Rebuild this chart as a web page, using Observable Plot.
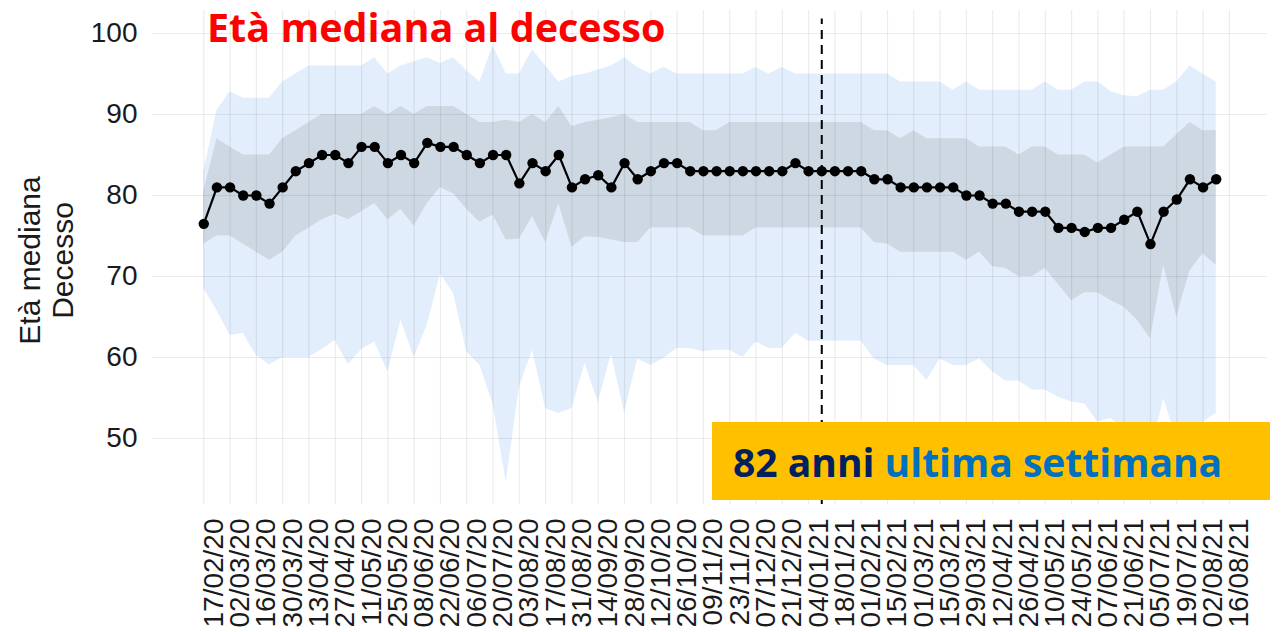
<!DOCTYPE html>
<html>
<head>
<meta charset="utf-8">
<script src="https://cdn.jsdelivr.net/npm/d3@7"></script>
<script src="https://cdn.jsdelivr.net/npm/@observablehq/plot@0.6"></script>
<style>
  html, body { margin: 0; padding: 0; background: #fff; }
  #wrap { position: relative; width: 1281px; height: 632px; overflow: hidden; }
  #title { position: absolute; left: 207px; top: 4px; font-family: "Open Sans", sans-serif; font-weight: 700; font-size: 39.5px; color: #ff0000; line-height: 1.2; white-space: nowrap; }
  #badge { position: absolute; left: 712px; top: 422px; width: 558px; height: 78px; background: #ffc000; display: flex; align-items: center; padding-left: 21px; box-sizing: border-box; font-family: "Open Sans", sans-serif; font-weight: 700; font-size: 39px; white-space: nowrap; }
  #badge .n { color: #002060; }
  #badge .t { color: #0070c0; }
</style>
</head>
<body>
<div id="wrap">
  <div id="chart"></div>
  <div id="title">Età mediana al decesso</div>
  <div id="badge"><span class="n">82 anni</span>&nbsp;<span class="t">ultima settimana</span></div>
</div>
<script>
// Weekly median age at death (17/02/20 ... 09/08/21)
const median = [76.5,81,81,80,80,79,81,83,84,85,85,84,86,86,84,85,84,86.5,86,86,85,84,85,85,81.5,84,83,85,81,82,82.5,81,84,82,83,84,84,
  83,83,83,83,83,83,83,83,84,83,83,83,83,83,82,82,81,81,81,81,81,80,80,79,79,78,78,78,76,76,75.5,76,76,77,78,74,78,79.5,82,81,82];
// Outer band (light blue)
const outerHigh = [83,90.5,92.8,92,92,92,94,95,96,96,96,96,96,97,95,96,96.5,97,96.3,97,95.4,94,98.5,95,95,98,96,94,94.7,95,95.5,96,97,95.8,95,95.8,95,
  95,95,95,95,95,95.8,95,95.8,95,95,95,95,95,95,95,95,94,94,94,94,93,94,93,93,93,93,93,94,93,93,94,94,92.8,92.3,92.2,93,93,94,96,95,94];
const outerLow = [68.5,65.8,62.7,63,60.2,59.1,60,60,60,61,62.1,59.1,61,61.9,58.2,64.6,60,64,70.3,67.9,60.7,59,54.3,44.6,56.3,60.9,53.7,53.1,53.7,59.3,54.4,60.4,53.2,59.8,59,59.9,61.1,
  61.1,60.7,60.9,60.9,60,61.9,61.1,61.1,63,62,62,62,62,62,59.8,59,59,59,57.2,59.8,59,59,59.8,58.2,57.1,57.1,56,56,55.1,54.5,54.3,52,52.5,51,50,48,54.9,50,51,52,53.1];
// Inner band (grey-blue)
const innerHigh = [80.5,87,86,85,85,85,87,88,89,90,90,90,90,91,90,91,90,91,91,91,90,89,89,89.3,89,90,89,91,88.5,89,89.3,89.6,90,89,89,89,89,
  89,88,88,89,89,89,89,89,89,89,89,89,89,89,88,88,87,88,87,87,87,87,86,86,86,85,86,86,85,85,85,84,85,86,86,86,86,87.5,89,88,88];
const innerLow = [74,75,75,74,73,72,73,75,76,77,77.7,77,78,79,77,78.3,76.2,79,81,80.2,78.3,76.7,77.6,74.5,74.6,77.4,74.2,79,73.6,74.9,74.8,74.5,74.2,74.2,76,76,76,
  76,75,75,75,75,76,76,76,76,76,76,76,76,76,74.2,74,73,73,73,73,73,72,73,71.2,71,70,70,71,69,67,68,68,67,66.2,64.6,62.3,71.4,65,70.7,72.8,71.4];

const xTickLabels = ["17/02/20","02/03/20","16/03/20","30/03/20","13/04/20","27/04/20","11/05/20","25/05/20","08/06/20","22/06/20",
  "06/07/20","20/07/20","03/08/20","17/08/20","31/08/20","14/09/20","28/09/20","12/10/20","26/10/20","09/11/20",
  "23/11/20","07/12/20","21/12/20","04/01/21","18/01/21","01/02/21","15/02/21","01/03/21","15/03/21","29/03/21",
  "12/04/21","26/04/21","10/05/21","24/05/21","07/06/21","21/06/21","05/07/21","19/07/21","02/08/21","16/08/21"];
const yTicks = [50, 60, 70, 80, 90, 100];
const markerWeek = 47; // dashed reference line (week index)

const data = median.map((m, i) => ({
  w: i, med: m, oh: outerHigh[i], ol: outerLow[i], ih: innerHigh[i], il: innerLow[i]
}));
const labels = xTickLabels.map((t, k) => ({w: 2 * k, t}));

const chart = Plot.plot({
  width: 1281,
  height: 632,
  marginLeft: 152,
  marginRight: 14,
  marginTop: 10,
  marginBottom: 128,
  style: {fontFamily: "'Liberation Sans', Arial, sans-serif", background: "transparent"},
  x: {domain: [-3.9, 80.9], axis: null},
  y: {domain: [41.85, 102.84], axis: null},
  marks: [
    Plot.areaY(data, {x: "w", y1: "ol", y2: "oh", fill: "#e2eefb"}),
    Plot.areaY(data, {x: "w", y1: "il", y2: "ih", fill: "#ced8e3"}),
    Plot.gridY(yTicks, {stroke: "#000", strokeOpacity: 0.075, strokeWidth: 1.2}),
    Plot.gridX(labels.map(d => d.w), {stroke: "#000", strokeOpacity: 0.075, strokeWidth: 1.2}),
    Plot.axisY(yTicks, {tickSize: 0, tickPadding: 15, fontSize: 28, fill: "#1a1a1a", label: null}),
    Plot.text(labels, {x: "w", text: "t", frameAnchor: "bottom", rotate: -90, textAnchor: "end", lineAnchor: "middle", dy: 14, dx: 10, fontSize: 28, fill: "#1a1a1a"}),
    Plot.text(["Età mediana\nDecesso"], {frameAnchor: "left", rotate: -90, textAnchor: "middle", lineAnchor: "middle", dx: -107, dy: 3, fontSize: 30, lineHeight: 1.1, fill: "#1a1a1a"}),
    Plot.ruleX([markerWeek], {y1: 41.85, y2: 101.8, stroke: "#000", strokeWidth: 2, strokeDasharray: "9,6"}),
    Plot.line(data, {x: "w", y: "med", stroke: "#000", strokeWidth: 2.2}),
    Plot.dot(data, {x: "w", y: "med", r: 5.2, fill: "#000", stroke: "none"})
  ]
});
document.getElementById("chart").appendChild(chart);
</script>
</body>
</html>
